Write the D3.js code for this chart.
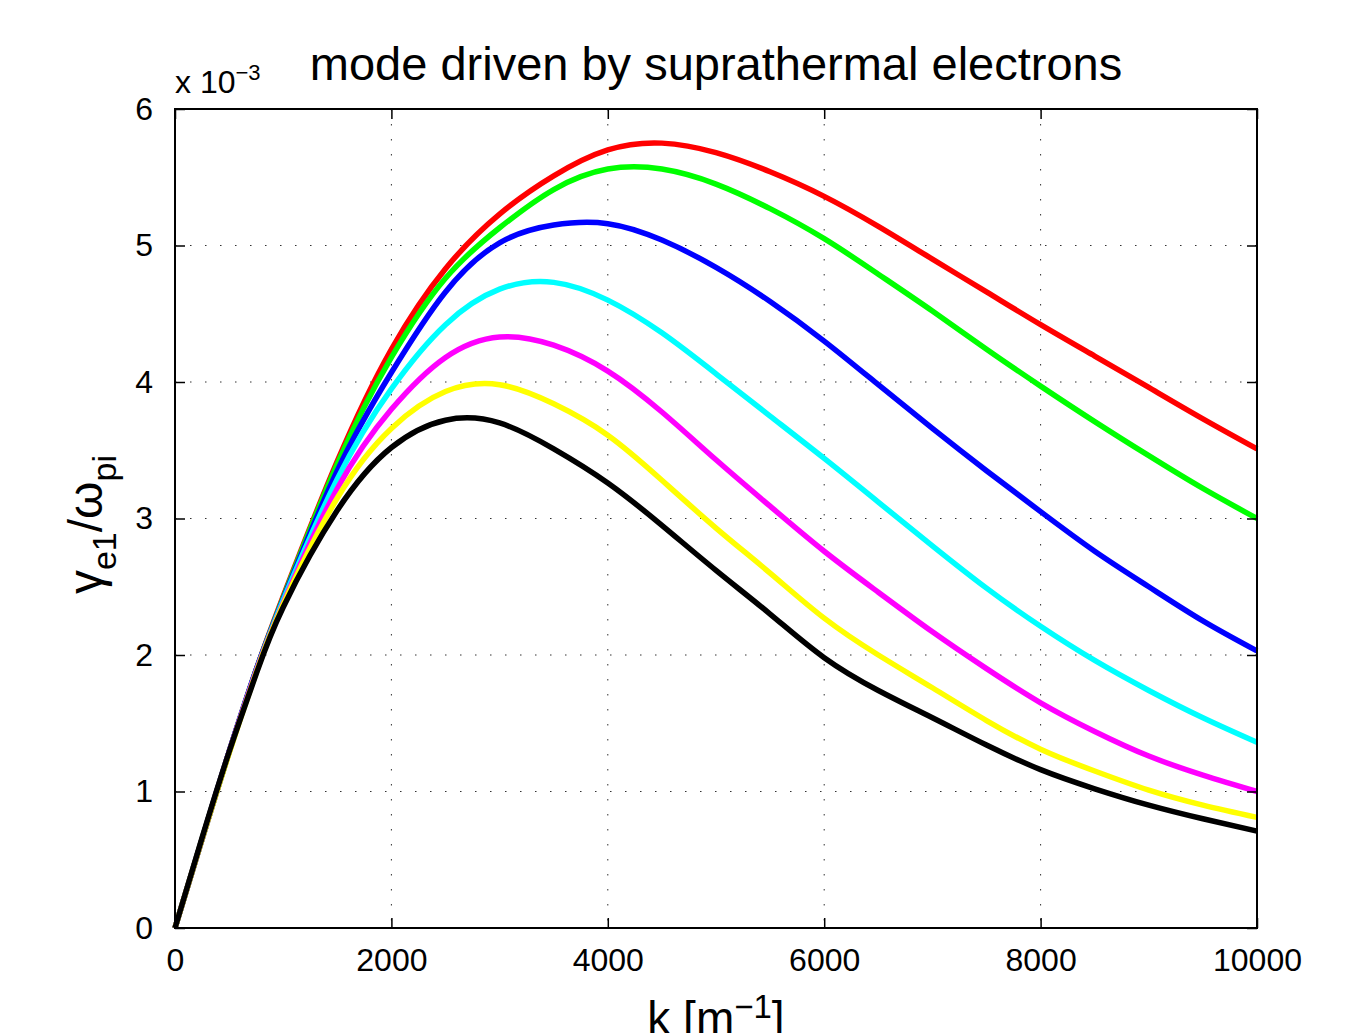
<!DOCTYPE html>
<html>
<head>
<meta charset="utf-8">
<script src="https://cdn.jsdelivr.net/npm/d3@7"></script>
<style>
  body { margin: 0; background: #fff; }
  text { font-family: "Liberation Sans", Arial, Helvetica, sans-serif; fill: #000; }
</style>
</head>
<body>
<script>
var margin = {top: 109, right: 110, bottom: 105, left: 175},
    width = 1367 - margin.left - margin.right,
    height = 1033 - margin.top - margin.bottom;

// wavenumber samples k [m^-1]
var k = [0, 250, 500, 750, 1000, 1500, 2000, 2500, 3000, 3500, 4000, 4500, 5000, 5500, 6000, 6500, 7000, 7500, 8000, 8500, 9000, 9500, 10000];

// growth rate gamma_e1/omega_pi, in units of 1e-3
var red     = [0, 0.65, 1.29, 1.89, 2.43, 3.42, 4.24, 4.83, 5.23, 5.51, 5.70, 5.75, 5.68, 5.54, 5.36, 5.14, 4.90, 4.66, 4.42, 4.19, 3.96, 3.73, 3.51];
var green   = [0, 0.65, 1.29, 1.89, 2.42, 3.40, 4.18, 4.76, 5.13, 5.41, 5.56, 5.56, 5.45, 5.27, 5.05, 4.79, 4.52, 4.24, 3.97, 3.71, 3.46, 3.22, 3.00];
var blue    = [0, 0.65, 1.29, 1.89, 2.41, 3.35, 4.07, 4.66, 5.02, 5.15, 5.16, 5.04, 4.84, 4.59, 4.30, 3.98, 3.66, 3.35, 3.05, 2.76, 2.50, 2.25, 2.03];
var cyan    = [0, 0.65, 1.29, 1.88, 2.40, 3.29, 3.95, 4.42, 4.68, 4.73, 4.60, 4.36, 4.06, 3.75, 3.44, 3.12, 2.80, 2.49, 2.21, 1.96, 1.74, 1.54, 1.36];
var magenta = [0, 0.65, 1.29, 1.88, 2.38, 3.22, 3.80, 4.18, 4.33, 4.27, 4.08, 3.78, 3.43, 3.09, 2.76, 2.46, 2.17, 1.90, 1.65, 1.44, 1.26, 1.12, 1.00];
var yellow  = [0, 0.65, 1.28, 1.87, 2.37, 3.15, 3.66, 3.93, 3.98, 3.84, 3.61, 3.28, 2.93, 2.60, 2.27, 2.00, 1.76, 1.52, 1.31, 1.15, 1.01, 0.90, 0.81];
var black   = [0, 0.66, 1.29, 1.86, 2.35, 3.06, 3.52, 3.72, 3.70, 3.51, 3.26, 2.95, 2.62, 2.30, 1.98, 1.74, 1.54, 1.34, 1.16, 1.02, 0.90, 0.80, 0.71];

var series = [
  {name: "red", color: "#ff0000", values: red},
  {name: "green", color: "#00ff00", values: green},
  {name: "blue", color: "#0000ff", values: blue},
  {name: "cyan", color: "#00ffff", values: cyan},
  {name: "magenta", color: "#ff00ff", values: magenta},
  {name: "yellow", color: "#ffff00", values: yellow},
  {name: "black", color: "#000000", values: black}
];

var xTicks = [0, 2000, 4000, 6000, 8000, 10000];
var yTicks = [0, 1, 2, 3, 4, 5, 6];

var x = d3.scaleLinear().domain([0, 10000]).range([0, width]);
var y = d3.scaleLinear().domain([0, 6]).range([height, 0]);

var svg = d3.select("body").append("svg")
    .attr("width", 1367)
    .attr("height", 1033)
    .append("g")
    .attr("transform", "translate(" + margin.left + "," + margin.top + ")");

// dotted grid
svg.selectAll(".gx").data(xTicks.slice(1, -1)).enter().append("line")
    .attr("x1", function(d) { return x(d); }).attr("x2", function(d) { return x(d); })
    .attr("y1", 0).attr("y2", height)
    .attr("stroke", "#333").attr("stroke-width", 1)
    .attr("stroke-dasharray", "1.5,13.5");
svg.selectAll(".gy").data(yTicks.slice(1, -1)).enter().append("line")
    .attr("y1", function(d) { return y(d); }).attr("y2", function(d) { return y(d); })
    .attr("x1", 0).attr("x2", width)
    .attr("stroke", "#333").attr("stroke-width", 1)
    .attr("stroke-dasharray", "1.5,13.5");

// curves
var line = d3.line()
    .x(function(d, i) { return x(k[i]); })
    .y(function(d) { return y(d); })
    .curve(d3.curveNatural);

svg.selectAll(".curve").data(series).enter().append("path")
    .attr("class", "curve")
    .attr("fill", "none")
    .attr("stroke", function(d) { return d.color; })
    .attr("stroke-width", 5.5)
    .attr("stroke-linejoin", "round")
    .attr("d", function(d) { return line(d.values); });

// axes, ticks pointing inward on all four sides
var fmt = d3.format("d");
var xAxis = d3.axisBottom(x).tickValues(xTicks).tickFormat(fmt).tickSizeInner(-10).tickSizeOuter(0).tickPadding(20);
var yAxis = d3.axisLeft(y).tickValues(yTicks).tickFormat(fmt).tickSizeInner(-10).tickSizeOuter(0).tickPadding(22);

svg.append("g").attr("class", "x axis")
    .attr("transform", "translate(0," + height + ")")
    .call(xAxis);
svg.append("g").attr("class", "y axis")
    .call(yAxis);
svg.append("g")
    .call(d3.axisTop(x).tickValues(xTicks).tickSizeInner(-10).tickSizeOuter(0).tickFormat(""));
svg.append("g")
    .attr("transform", "translate(" + width + ",0)")
    .call(d3.axisRight(y).tickValues(yTicks).tickSizeInner(-10).tickSizeOuter(0).tickFormat(""));

svg.selectAll(".tick line").attr("stroke", "#000").attr("stroke-width", 1.5);
svg.selectAll(".domain").remove();
svg.selectAll(".tick text").style("font-size", "32px").attr("fill", "#000");

svg.append("rect")
    .attr("width", width).attr("height", height)
    .attr("fill", "none").attr("stroke", "#000").attr("stroke-width", 2);

// title
svg.append("text")
    .attr("x", width / 2).attr("y", -29)
    .attr("text-anchor", "middle")
    .style("font-size", "47px")
    .text("mode driven by suprathermal electrons");

// exponent label
var ex = svg.append("text").attr("x", 0).attr("y", -16).style("font-size", "32px");
ex.append("tspan").text("x 10");
ex.append("tspan").attr("dy", -13).style("font-size", "22px").text("\u22123");

// x label
var xl = svg.append("text")
    .attr("x", width / 2).attr("y", height + 106)
    .attr("text-anchor", "middle")
    .style("font-size", "46px");
xl.append("tspan").text("k [m");
xl.append("tspan").attr("dy", -16).style("font-size", "33px").text("\u22121");
xl.append("tspan").attr("dy", 16).text("]");

// y label
var yl = svg.append("text")
    .attr("transform", "translate(-73," + (height / 2 + 6) + ") rotate(-90)")
    .attr("text-anchor", "middle")
    .style("font-size", "48px");
yl.append("tspan").text("\u03b3");
yl.append("tspan").attr("dy", 14).style("font-size", "34px").text("e1");
yl.append("tspan").attr("dy", -14).text("/\u03c9");
yl.append("tspan").attr("dy", 14).style("font-size", "34px").text("pi");
</script>
</body>
</html>
